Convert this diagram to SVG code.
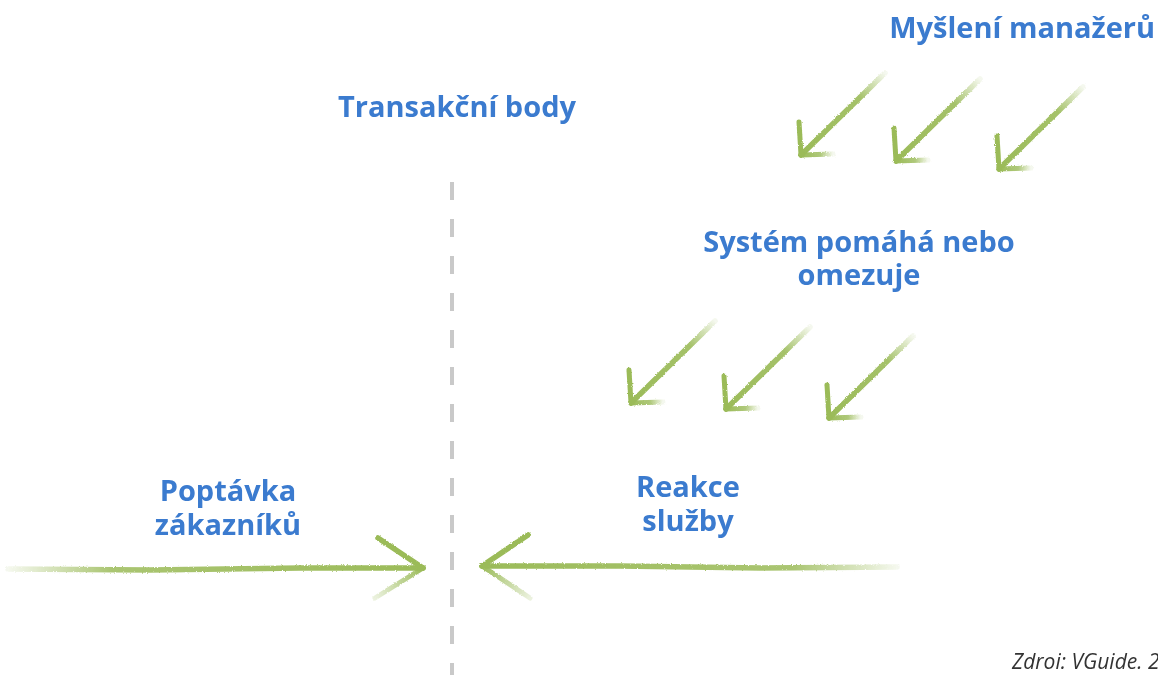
<svg xmlns="http://www.w3.org/2000/svg" width="1158" height="675" viewBox="0 0 1158 675">
  <style>
    .lbl { font-family: "Open Sans", "Noto Sans", "Liberation Sans", sans-serif; font-weight: 700; font-size: 29px; fill: #3b7bcf; text-anchor: middle; }
    .src { font-family: "Open Sans", "Noto Sans", "Liberation Sans", sans-serif; font-style: italic; font-size: 21px; fill: #333333; }
    .chalk { fill: none; stroke-linecap: round; stroke-linejoin: round; }
  </style>
  <defs>
    <filter id="rough" x="-20%" y="-20%" width="140%" height="140%">
      <feTurbulence type="fractalNoise" baseFrequency="0.9" numOctaves="2" seed="4" result="noise"/>
      <feDisplacementMap in="SourceGraphic" in2="noise" scale="2.5" xChannelSelector="R" yChannelSelector="G"/>
    </filter>
    <!-- diagonal arrow: fades out toward the tail -->
    <linearGradient id="diagShaft" gradientUnits="userSpaceOnUse" x1="84" y1="-82" x2="0" y2="0">
      <stop offset="0" stop-color="#9bbb59" stop-opacity="0.1"/>
      <stop offset="0.3" stop-color="#9bbb59" stop-opacity="0.9"/>
      <stop offset="1" stop-color="#9bbb59"/>
    </linearGradient>
    <linearGradient id="diagBarb" gradientUnits="userSpaceOnUse" x1="0" y1="0" x2="32" y2="0">
      <stop offset="0" stop-color="#9bbb59"/>
      <stop offset="0.6" stop-color="#9bbb59" stop-opacity="0.8"/>
      <stop offset="1" stop-color="#9bbb59" stop-opacity="0.1"/>
    </linearGradient>
    <g id="diagArrow">
      <path class="chalk" d="M84,-82 L0,0" stroke="url(#diagShaft)" stroke-width="5.5"/>
      <path class="chalk" d="M-2,-33 L0,0" stroke="#9bbb59" stroke-width="5"/>
      <path class="chalk" d="M0,0 L32,-1" stroke="url(#diagBarb)" stroke-width="5"/>
    </g>
    <linearGradient id="leftShaft" gradientUnits="userSpaceOnUse" x1="8" y1="0" x2="423" y2="0">
      <stop offset="0" stop-color="#9bbb59" stop-opacity="0.1"/>
      <stop offset="0.25" stop-color="#9bbb59" stop-opacity="0.85"/>
      <stop offset="1" stop-color="#9bbb59"/>
    </linearGradient>
    <linearGradient id="rightShaft" gradientUnits="userSpaceOnUse" x1="482" y1="0" x2="897" y2="0">
      <stop offset="0" stop-color="#9bbb59"/>
      <stop offset="0.75" stop-color="#9bbb59" stop-opacity="0.85"/>
      <stop offset="1" stop-color="#9bbb59" stop-opacity="0.1"/>
    </linearGradient>
    <linearGradient id="lowBarbL" gradientUnits="userSpaceOnUse" x1="423" y1="568" x2="375" y2="598">
      <stop offset="0" stop-color="#9bbb59"/>
      <stop offset="1" stop-color="#9bbb59" stop-opacity="0.2"/>
    </linearGradient>
    <linearGradient id="lowBarbR" gradientUnits="userSpaceOnUse" x1="482" y1="566" x2="530" y2="598">
      <stop offset="0" stop-color="#9bbb59"/>
      <stop offset="1" stop-color="#9bbb59" stop-opacity="0.2"/>
    </linearGradient>
  </defs>

  <rect width="1158" height="675" fill="#ffffff"/>

  <!-- boundary between customer and service -->
  <g id="divider">
    <line x1="452" y1="182" x2="452" y2="675" stroke="#c9c9c9" stroke-width="4" stroke-dasharray="18 19"/>
  </g>

  <g id="connectors" filter="url(#rough)">
    <!-- managers' thinking flows down -->
    <use href="#diagArrow" transform="translate(801,155)"/>
    <use href="#diagArrow" transform="translate(896,161)"/>
    <use href="#diagArrow" transform="translate(999,169)"/>
    <!-- system helps or limits -->
    <use href="#diagArrow" transform="translate(631,403)"/>
    <use href="#diagArrow" transform="translate(726,409)"/>
    <use href="#diagArrow" transform="translate(829,418)"/>
    <!-- customer demand -->
    <g id="demand-arrow">
      <path class="chalk" d="M8,569 L150,570 L300,568 L423,568" stroke="url(#leftShaft)" stroke-width="5.5"/>
      <path class="chalk" d="M378,538 L423,568" stroke="#9bbb59" stroke-width="5.5"/>
      <path class="chalk" d="M423,568 L375,598" stroke="url(#lowBarbL)" stroke-width="5"/>
    </g>
    <!-- service response -->
    <g id="response-arrow">
      <path class="chalk" d="M482,566 L620,566 L760,568 L897,567" stroke="url(#rightShaft)" stroke-width="5.5"/>
      <path class="chalk" d="M528,535 L482,566" stroke="#9bbb59" stroke-width="5.5"/>
      <path class="chalk" d="M482,566 L530,598" stroke="url(#lowBarbR)" stroke-width="5"/>
    </g>
  </g>

  <g id="managers">
    <text class="lbl" x="1155" y="38" style="text-anchor:end">Myšlení manažerů</text>
  </g>
  <g id="touchpoints">
    <text class="lbl" x="457" y="117">Transakční body</text>
  </g>
  <g id="system">
    <text class="lbl" x="859" y="252">Systém pomáhá nebo<tspan x="859" dy="33">omezuje</tspan></text>
  </g>
  <g id="demand">
    <text class="lbl" x="228" y="501">Poptávka<tspan x="228" dy="34">zákazníků</tspan></text>
  </g>
  <g id="response">
    <text class="lbl" x="688" y="497">Reakce<tspan x="688" dy="34">služby</tspan></text>
  </g>
  <g id="source">
    <text class="src" x="1012" y="669">Zdroi: VGuide. 2</text>
  </g>
</svg>
